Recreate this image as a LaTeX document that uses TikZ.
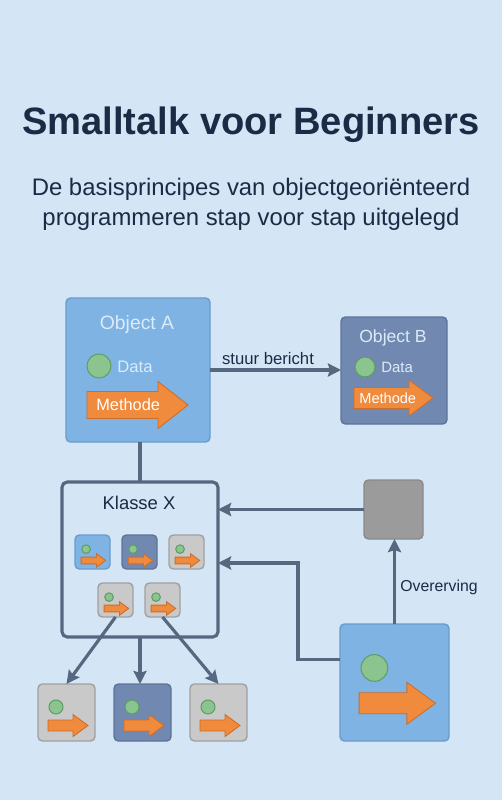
\documentclass[tikz,border=0pt]{standalone}
\usepackage{fontspec}
\setmainfont{Liberation Sans}
\usetikzlibrary{arrows.meta, calc}

\definecolor{bgblue}{HTML}{D4E6F5}
\definecolor{titlenavy}{HTML}{1C2B45}
\definecolor{objblue}{HTML}{7EB3E3}
\definecolor{objblueline}{HTML}{6A9CCD}
\definecolor{slate}{HTML}{7189B1}
\definecolor{slateline}{HTML}{5D7498}
\definecolor{boxgray}{HTML}{C9C9C9}
\definecolor{boxgrayline}{HTML}{A0A0A0}
\definecolor{darkgray}{HTML}{9B9B9B}
\definecolor{darkgrayline}{HTML}{8A8A8A}
\definecolor{linkgray}{HTML}{56687F}
\definecolor{dotgreen}{HTML}{8CC490}
\definecolor{dotgreenline}{HTML}{5C9E66}
\definecolor{methorange}{HTML}{F08B3D}
\definecolor{methline}{HTML}{CC6E2A}
\definecolor{paletext}{HTML}{DCEBF8}

% orange method arrow: start, head start, tip, y centre, half body, half head
\newcommand{\methodearrow}[6]{%
  \filldraw[fill=methorange, draw=methline, line width=0.5pt]
    (#1,#4-#5) -- (#2,#4-#5) -- (#2,#4-#6) -- (#3,#4) -- (#2,#4+#6) -- (#2,#4+#5) -- (#1,#4+#5) -- cycle;}

% data dot + method arrow inside a box, scaled to the box
\newcommand{\boxicon}[2]{%
  \begin{scope}[shift={(#1.north west)}, scale=#2]
    \filldraw[dot] (18,23) circle [radius=7];
    \methodearrow{10}{35}{50}{41.5}{5.5}{11}
  \end{scope}}

\begin{document}
\begin{tikzpicture}[x=0.02cm, y=-0.02cm,
    box/.style={draw, rounded corners=2.5pt, line width=0.8pt, inner sep=0pt, outer sep=0pt},
    boxsize/.style 2 args={minimum width=#1*0.02cm, minimum height=#2*0.02cm},
    conn/.style={draw=linkgray, line width=1.8pt},
    linkarrow/.style={-{Stealth[length=7.5pt, width=7.5pt, inset=1.2pt]}},
    dot/.style={fill=dotgreen, draw=dotgreenline, line width=0.6pt},
    label/.style={text=titlenavy, inner sep=0pt}]

    % Background
    \fill[bgblue] (0,0) rectangle (502,800);
    \useasboundingbox (0,0) rectangle (502,800);

    % Title
    \node[label, anchor=base, font=\bfseries\fontsize{21.7}{26}\selectfont] (title) at (251,135) {Smalltalk voor Beginners};
    \node[label, anchor=base, font=\fontsize{13.6}{16}\selectfont] (sub1) at (251,196) {De basisprincipes van objectgeoriënteerd};
    \node[label, anchor=base, font=\fontsize{13.6}{16}\selectfont] (sub2) at (251,226) {programmeren stap voor stap uitgelegd};

    % Object A
    \node[box, fill=objblue, draw=objblueline, boxsize={144}{144}] (objA) at (138,370) {};
    \node[label, anchor=base, text=paletext, font=\fontsize{11}{13}\selectfont] (objAname) at (137,329) {Object A};
    \filldraw[dot] (99,366) circle [radius=12];
    \node[label, anchor=base west, text=paletext, font=\fontsize{9.5}{11}\selectfont] (dataA) at (117,372) {Data};
    \methodearrow{87}{158}{188}{405}{13.5}{23.5}
    \node[label, anchor=base west, text=white, font=\fontsize{9.3}{11}\selectfont] (methA) at (96,410) {Methode};

    % Object B
    \node[box, fill=slate, draw=slateline, boxsize={106}{107}] (objB) at (394,370.5) {};
    \node[label, anchor=base, text=paletext, font=\fontsize{10}{12}\selectfont] (objBname) at (393,342) {Object B};
    \filldraw[dot] (365,367) circle [radius=10];
    \node[label, anchor=base west, text=paletext, font=\fontsize{8.5}{10}\selectfont] (dataB) at (381,372) {Data};
    \methodearrow{354}{409}{433}{398}{10.5}{18}
    \node[label, anchor=base west, text=white, font=\fontsize{8.3}{10}\selectfont] (methB) at (359,403) {Methode};

    % Message arrow
    \draw[conn, linkarrow] (objA.east) -- (objA.east -| objB.west);
    \node[label, anchor=base, font=\fontsize{9.5}{11}\selectfont] (msg) at (268,364) {stuur bericht};

    % Klasse X
    \node[box, fill=bgblue, draw=linkgray, line width=1.8pt, rounded corners=3pt, boxsize={156}{155}] (klasse) at (140,559.5) {};
    \node[label, anchor=base, font=\fontsize{10.5}{12}\selectfont] (klassename) at (139,509) {Klasse X};
    \draw[conn] (objA.south -| klasse.north) -- (klasse.north);

    % Instances inside the class
    \node[box, fill=objblue, draw=objblueline, boxsize={35}{34}] (s1) at (92.5,552) {};
    \boxicon{s1}{0.614}
    \node[box, fill=slate, draw=slateline, boxsize={35}{34}] (s2) at (139.5,552) {};
    \boxicon{s2}{0.614}
    \node[box, fill=boxgray, draw=boxgrayline, boxsize={35}{34}] (s3) at (186.5,552) {};
    \boxicon{s3}{0.614}
    \node[box, fill=boxgray, draw=boxgrayline, boxsize={35}{34}] (s4) at (115.5,600) {};
    \boxicon{s4}{0.614}
    \node[box, fill=boxgray, draw=boxgrayline, boxsize={35}{34}] (s5) at (162.5,600) {};
    \boxicon{s5}{0.614}

    % Objects below
    \node[box, fill=boxgray, draw=boxgrayline, boxsize={57}{57}] (b1) at (66.5,712.5) {};
    \boxicon{b1}{1}
    \node[box, fill=slate, draw=slateline, boxsize={57}{57}] (b2) at (142.5,712.5) {};
    \boxicon{b2}{1}
    \node[box, fill=boxgray, draw=boxgrayline, boxsize={57}{57}] (b3) at (218.5,712.5) {};
    \boxicon{b3}{1}
    \draw[conn, linkarrow] (s4.south) -- (b1.north);
    \draw[conn, linkarrow] (klasse.south) -- (klasse.south |- b2.north);
    \draw[conn, linkarrow] (s5.south) -- (b3.north);

    % Superclass and subclass
    \node[box, fill=darkgray, draw=darkgrayline, boxsize={59}{59}] (super) at (393.5,509.5) {};
    \node[box, fill=objblue, draw=objblueline, boxsize={109}{117}] (subcl) at (394.5,682.5) {};
    \boxicon{subcl}{1.91}
    \draw[conn, linkarrow] (super.west) -- (super.west -| klasse.east);
    \draw[conn, linkarrow] (subcl.north) -- (subcl.north |- super.south);
    \node[label, anchor=base west, font=\fontsize{9}{11}\selectfont] (inherit) at (400,591) {Overerving};
    \coordinate (bend) at (298,563);
    \draw[conn, linkarrow] ($(subcl.north west)!0.3!(subcl.south west)$) -| (bend) -- (bend -| klasse.east);
\end{tikzpicture}
\end{document}
